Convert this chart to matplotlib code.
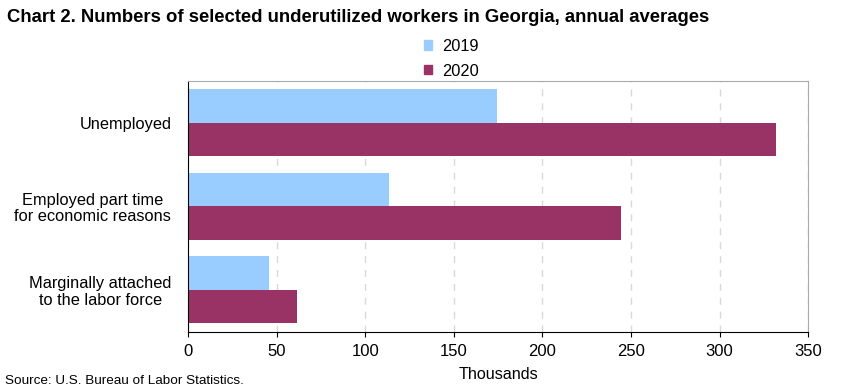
import numpy as np
import matplotlib.pyplot as plt
from matplotlib.patches import Patch

plt.rcParams['font.family'] = ['Liberation Sans', 'DejaVu Sans']

# Data (thousands)
categories = ['Unemployed', 'Employed part time\nfor economic reasons',
              'Marginally attached\nto the labor force']
years = ['2019', '2020']
values_2019 = [174.3, 113.7, 45.6]
values_2020 = [331.8, 244.6, 61.6]
colors = ['#99ccff', '#993366']

fig = plt.figure(figsize=(8.41, 3.91), dpi=100)
ax = fig.add_axes([0.2235, 0.1515, 0.7375, 0.642])

y = np.arange(len(categories))
h = 0.4
ax.barh(y - h / 2, values_2019, height=h, color=colors[0], label=years[0], zorder=2)
ax.barh(y + h / 2, values_2020, height=h, color=colors[1], label=years[1], zorder=2)

ax.set_ylim(2.5, -0.5)
ax.set_xlim(0, 350)
ax.set_xticks(np.arange(0, 351, 50))
ax.set_yticks(y)
ax.set_yticklabels(categories, fontsize=11.8, multialignment='center', linespacing=1.1)
ax.tick_params(axis='y', length=0, pad=12)
ax.tick_params(axis='x', labelsize=12, direction='out', length=3.5, pad=5)
ax.xaxis.grid(True, color='#d9d9d9', linestyle=(0, (5, 5)), linewidth=1, zorder=0)
ax.set_axisbelow(True)

for s in ['top', 'right']:
    ax.spines[s].set_color('#aaaaaa')
for s in ['left', 'bottom']:
    ax.spines[s].set_color('black')

ax.set_xlabel('Thousands', fontsize=11.6, labelpad=6)

fig.text(0.008, 0.955, 'Chart 2. Numbers of selected underutilized workers in Georgia, annual averages',
         fontsize=13.3, fontweight='bold', va='center', ha='left')
fig.text(0.006, 0.025, 'Source: U.S. Bureau of Labor Statistics.', fontsize=9.7, va='center', ha='left')

handles = [Patch(color=colors[0], label=years[0]), Patch(color=colors[1], label=years[1])]
fig.legend(handles=handles, loc='center', bbox_to_anchor=(0.537, 0.85), frameon=False,
           fontsize=11.8, handlelength=0.5, handleheight=0.5, handletextpad=0.6,
           labelspacing=0.6)

fig.savefig('out.png', dpi=100)
